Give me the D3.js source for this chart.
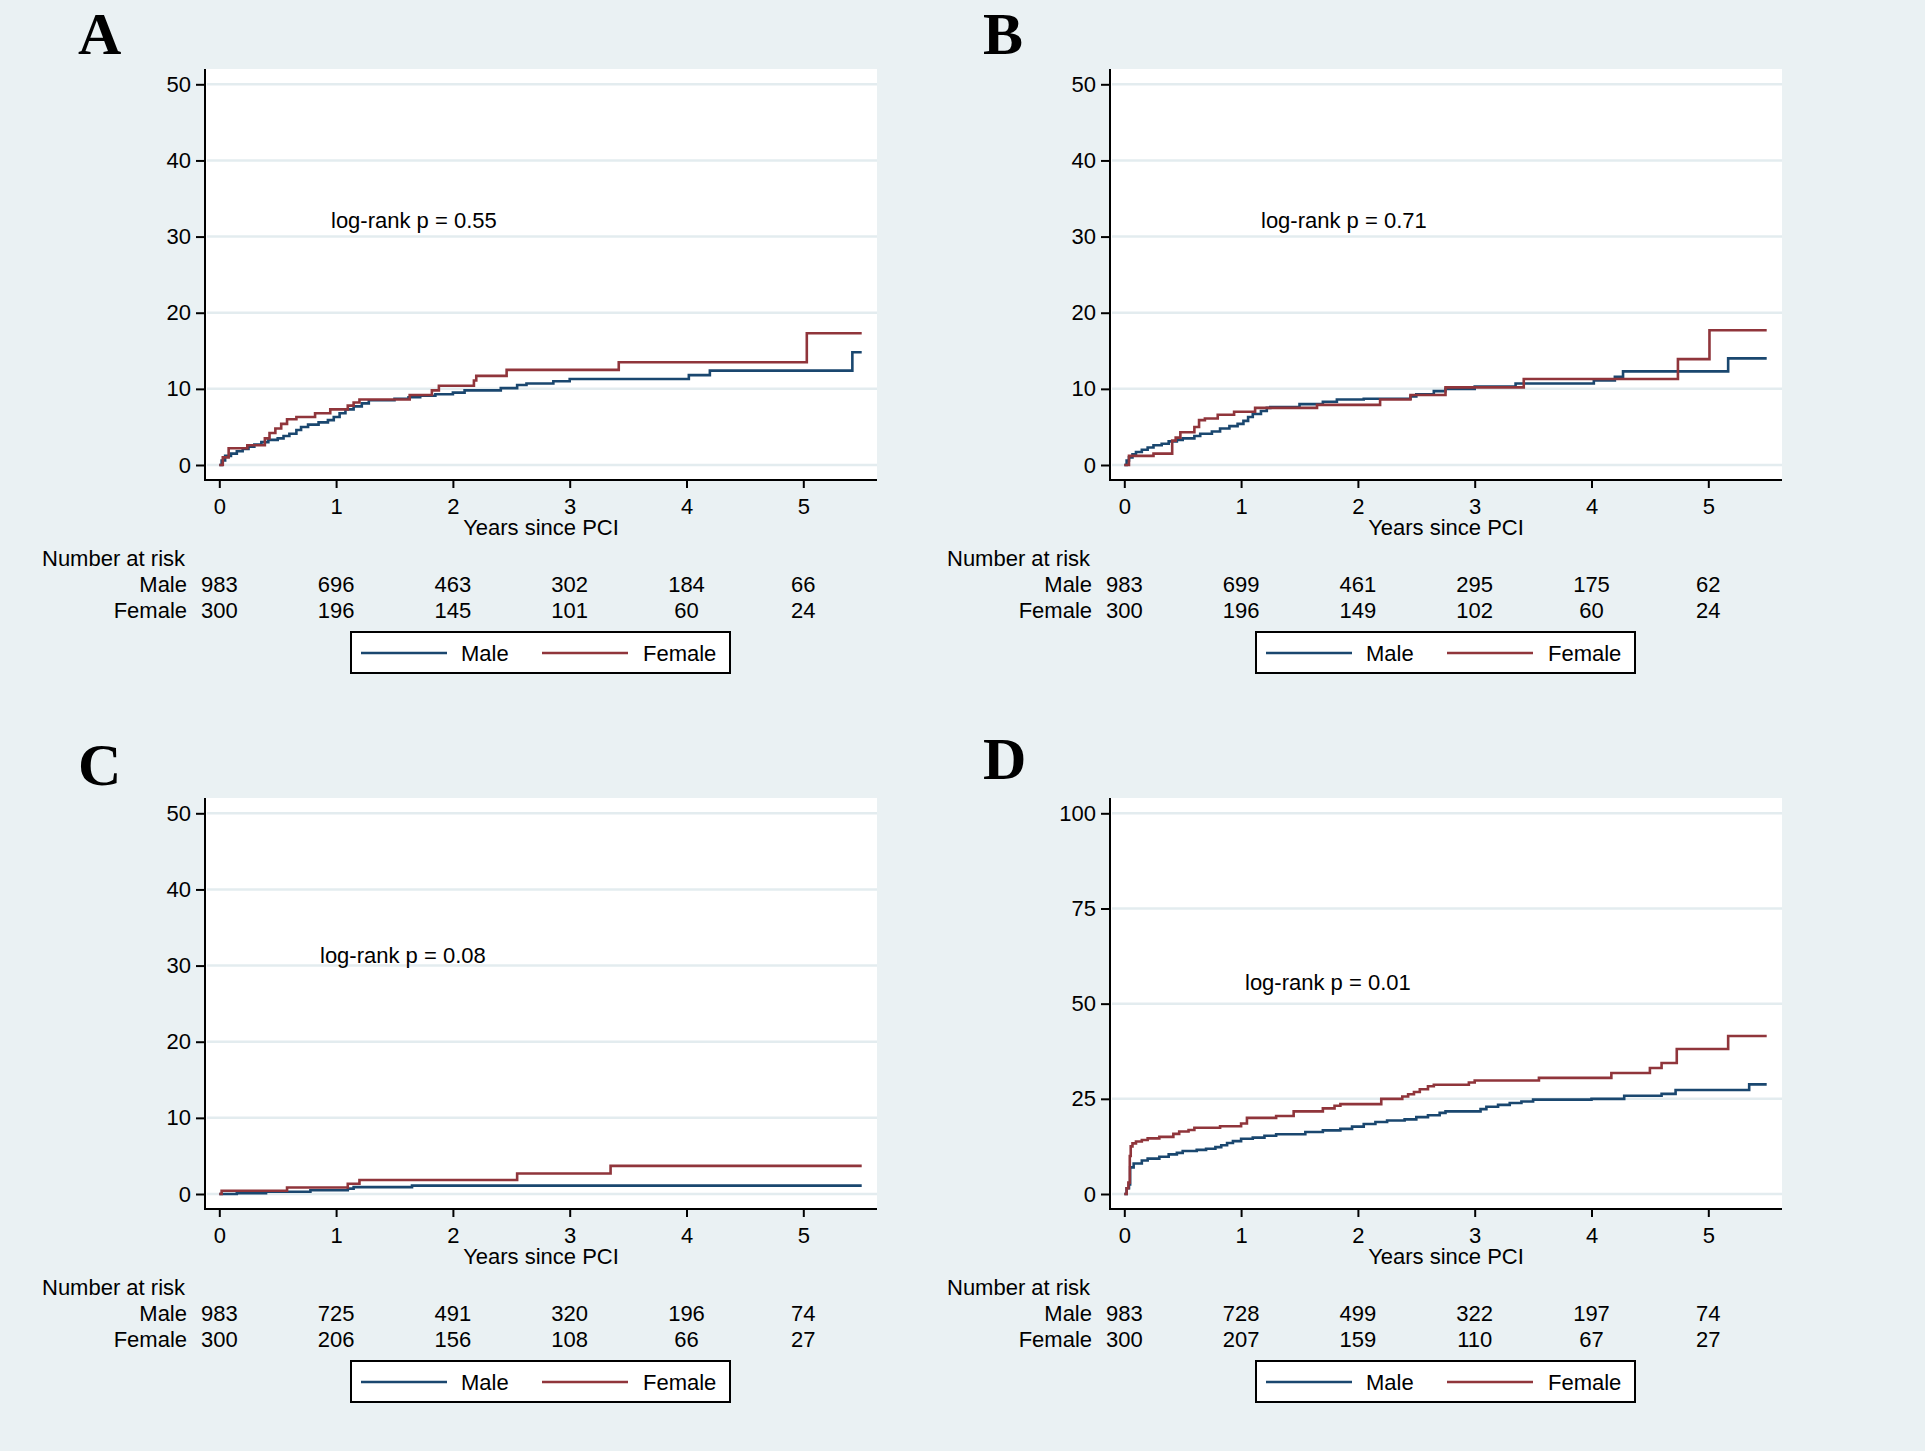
<!DOCTYPE html>
<html>
<head>
<meta charset="utf-8">
<script src="https://cdn.jsdelivr.net/npm/d3@7"></script>
<style>
  body { margin: 0; background: #eaf1f3; }
  svg { display: block; }
  text { font-family: "Liberation Sans", Arial, sans-serif; fill: #000; }
</style>
</head>
<body>
<svg id="chart" width="1925" height="1451"></svg>
<script>
// ---------------- DATA ----------------
const panelLetters = ["A", "B", "C", "D"];
const pValueTexts = ["log-rank p = 0.55", "log-rank p = 0.71", "log-rank p = 0.08", "log-rank p = 0.01"];
const xTickValues = [0, 1, 2, 3, 4, 5];
const yTicksSmall = [0, 10, 20, 30, 40, 50];
const yTicksLarge = [0, 25, 50, 75, 100];
const groupNames = ["Male", "Female"];

// Panel A: [years, cumulative incidence %]
const aMale = [[0,0],[0.02,0.6],[0.05,1.2],[0.1,1.5],[0.15,1.8],[0.2,2.1],[0.25,2.4],[0.3,2.7],[0.36,3.0],[0.42,3.3],[0.5,3.5],[0.55,3.8],[0.6,4.1],[0.66,4.6],[0.7,5.0],[0.76,5.3],[0.85,5.6],[0.93,5.9],[0.98,6.3],[1.03,6.8],[1.08,7.3],[1.15,7.7],[1.22,8.1],[1.28,8.5],[1.5,8.7],[1.62,8.9],[1.72,9.1],[1.85,9.3],[2.0,9.5],[2.1,9.8],[2.41,10.1],[2.55,10.5],[2.63,10.7],[2.86,11.0],[3.0,11.3],[4.02,11.8],[4.2,12.4],[5.42,14.8],[5.5,14.8]];
const aFemale = [[0,0],[0.03,1.0],[0.08,2.2],[0.24,2.6],[0.39,3.5],[0.43,4.2],[0.48,4.8],[0.53,5.4],[0.58,6.0],[0.66,6.3],[0.82,6.8],[0.95,7.3],[1.1,7.8],[1.15,8.2],[1.2,8.6],[1.63,9.2],[1.82,9.8],[1.88,10.4],[2.18,11.1],[2.2,11.7],[2.46,12.5],[3.42,13.5],[5.03,17.3],[5.5,17.3]];
// Panel B
const bMale = [[0,0],[0.02,0.6],[0.04,1.0],[0.07,1.4],[0.1,1.7],[0.15,2.0],[0.2,2.3],[0.25,2.6],[0.32,2.8],[0.38,3.1],[0.45,3.3],[0.5,3.5],[0.6,3.8],[0.65,4.1],[0.75,4.4],[0.82,4.8],[0.9,5.1],[0.97,5.4],[1.02,5.8],[1.06,6.3],[1.1,6.7],[1.17,7.1],[1.22,7.5],[1.25,7.6],[1.5,8.0],[1.7,8.3],[1.82,8.6],[2.05,8.7],[2.45,9.0],[2.5,9.3],[2.65,9.7],[2.75,10.0],[3.0,10.3],[3.35,10.7],[4.02,11.1],[4.2,11.6],[4.27,12.3],[5.17,14.0],[5.5,14.0]];
const bFemale = [[0,0],[0.04,1.2],[0.25,1.5],[0.41,3.2],[0.44,3.6],[0.48,4.3],[0.6,5.0],[0.64,5.9],[0.69,6.1],[0.8,6.6],[0.94,7.0],[1.12,7.5],[1.65,7.9],[2.19,8.6],[2.45,9.2],[2.75,10.2],[3.42,11.3],[4.74,13.9],[5.01,17.7],[5.5,17.7]];
// Panel C
const cMale = [[0,0],[0.15,0.12],[0.4,0.3],[0.78,0.5],[1.1,0.7],[1.15,0.9],[1.65,1.1],[5.5,1.1]];
const cFemale = [[0,0],[0.02,0.43],[0.58,0.86],[1.1,1.35],[1.2,1.83],[2.55,2.7],[3.35,3.7],[5.5,3.7]];
// Panel D
const dMale = [[0,0],[0.02,1.5],[0.04,2.5],[0.05,7.0],[0.08,8.0],[0.15,8.8],[0.2,9.3],[0.3,9.8],[0.38,10.4],[0.45,10.8],[0.5,11.3],[0.62,11.6],[0.7,11.9],[0.78,12.3],[0.83,12.8],[0.88,13.4],[0.93,13.9],[1.0,14.5],[1.1,14.8],[1.2,15.3],[1.3,15.7],[1.55,16.3],[1.7,16.7],[1.85,17.1],[1.95,17.7],[2.05,18.4],[2.15,18.9],[2.25,19.3],[2.4,19.6],[2.5,20.2],[2.6,20.7],[2.7,21.3],[2.75,21.7],[3.05,22.3],[3.1,22.9],[3.2,23.4],[3.3,23.9],[3.4,24.3],[3.5,24.8],[4.0,25.0],[4.28,25.8],[4.6,26.3],[4.72,27.3],[5.35,28.8],[5.5,28.8]];
const dFemale = [[0,0],[0.02,1.5],[0.035,3.0],[0.047,10.0],[0.055,12.5],[0.07,13.3],[0.1,13.8],[0.15,14.2],[0.2,14.6],[0.3,15.0],[0.42,15.8],[0.47,16.4],[0.55,16.8],[0.6,17.4],[0.82,17.8],[1.0,18.5],[1.05,20.0],[1.3,20.5],[1.45,21.7],[1.7,22.5],[1.8,23.2],[1.85,23.6],[2.2,25.0],[2.38,25.6],[2.43,26.2],[2.48,26.8],[2.53,27.5],[2.6,28.3],[2.65,28.7],[2.95,29.3],[3.0,29.8],[3.55,30.5],[4.17,31.8],[4.5,33.1],[4.6,34.4],[4.73,38.1],[5.17,41.5],[5.5,41.5]];

// Number at risk
const aRiskMale = [983, 696, 463, 302, 184, 66];
const aRiskFemale = [300, 196, 145, 101, 60, 24];
const bRiskMale = [983, 699, 461, 295, 175, 62];
const bRiskFemale = [300, 196, 149, 102, 60, 24];
const cRiskMale = [983, 725, 491, 320, 196, 74];
const cRiskFemale = [300, 206, 156, 108, 66, 27];
const dRiskMale = [983, 728, 499, 322, 197, 74];
const dRiskFemale = [300, 207, 159, 110, 67, 27];

// ---------------- LAYOUT / STYLE ----------------
const colors = { Male: "#1a476f", Female: "#90353b" };
const gridColor = "#e3ecef";
const panels = [
  { letter: panelLetters[0], p: pValueTexts[0], male: aMale, female: aFemale, rm: aRiskMale, rf: aRiskFemale, yTicks: yTicksSmall, yMax: 50, dx: 0, dy: 0, px: 331, py: 228, ly: 54 },
  { letter: panelLetters[1], p: pValueTexts[1], male: bMale, female: bFemale, rm: bRiskMale, rf: bRiskFemale, yTicks: yTicksSmall, yMax: 50, dx: 905, dy: 0, px: 356, py: 228, ly: 54 },
  { letter: panelLetters[2], p: pValueTexts[2], male: cMale, female: cFemale, rm: cRiskMale, rf: cRiskFemale, yTicks: yTicksSmall, yMax: 50, dx: 0, dy: 729, px: 320, py: 234, ly: 56 },
  { letter: panelLetters[3], p: pValueTexts[3], male: dMale, female: dFemale, rm: dRiskMale, rf: dRiskFemale, yTicks: yTicksLarge, yMax: 100, dx: 905, dy: 729, px: 340, py: 261, ly: 50 }
];

const plotL = 205, plotR = 877, plotT = 69, plotB = 480;
const svg = d3.select("#chart");
svg.append("rect").attr("width", 1925).attr("height", 1451).attr("fill", "#eaf1f3");

panels.forEach(P => {
  const g = svg.append("g").attr("transform", `translate(${P.dx},${P.dy})`);
  const x = d3.scaleLinear().domain([0, 5]).range([219.3, 803.3]);
  const y = d3.scaleLinear().domain([0, P.yMax]).range([465, 84.3]);

  // panel letter
  g.append("text").attr("x", 78).attr("y", P.ly)
    .style("font-family", "'Liberation Serif', 'Times New Roman', serif")
    .style("font-weight", "bold").style("font-size", "60px").text(P.letter);

  // plot area
  g.append("rect").attr("x", plotL).attr("y", plotT).attr("width", plotR - plotL).attr("height", plotB - plotT).attr("fill", "#fff");

  // gridlines
  g.selectAll(".grid").data(P.yTicks).enter().append("line")
    .attr("x1", plotL + 2).attr("x2", plotR)
    .attr("y1", d => y(d)).attr("y2", d => y(d))
    .attr("stroke", gridColor).attr("stroke-width", 2.5);

  // y axis
  const yAxis = g.append("g").attr("transform", `translate(${plotL},0)`)
    .call(d3.axisLeft(y).tickValues(P.yTicks).tickFormat(d3.format("d")).tickSize(9).tickPadding(5).tickSizeOuter(0));
  yAxis.select(".domain").remove();
  yAxis.selectAll(".tick line").attr("stroke", "#000").attr("stroke-width", 2);
  yAxis.selectAll(".tick text").style("font-size", "22px").style("font-family", "'Liberation Sans', Arial, sans-serif").attr("fill", "#000");
  g.append("line").attr("x1", plotL).attr("x2", plotL).attr("y1", plotT).attr("y2", plotB + 1)
    .attr("stroke", "#000").attr("stroke-width", 2);

  // x axis
  const xAxis = g.append("g").attr("transform", `translate(0,${plotB})`)
    .call(d3.axisBottom(x).tickValues(xTickValues).tickFormat(d3.format("d")).tickSize(8).tickPadding(10).tickSizeOuter(0));
  xAxis.select(".domain").remove();
  xAxis.selectAll(".tick line").attr("stroke", "#000").attr("stroke-width", 2);
  xAxis.selectAll(".tick text").style("font-size", "22px").style("font-family", "'Liberation Sans', Arial, sans-serif").attr("fill", "#000");
  g.append("line").attr("x1", plotL).attr("x2", plotR).attr("y1", plotB).attr("y2", plotB)
    .attr("stroke", "#000").attr("stroke-width", 2);

  g.append("text").attr("x", (plotL + plotR) / 2).attr("y", 535).attr("text-anchor", "middle")
    .style("font-size", "22px").text("Years since PCI");

  // p-value text
  g.append("text").attr("x", P.px).attr("y", P.py).style("font-size", "22px").text(P.p);

  // curves
  const line = d3.line().x(d => x(d[0])).y(d => y(d[1])).curve(d3.curveStepAfter);
  g.append("path").datum(P.male).attr("d", line).attr("fill", "none")
    .attr("stroke", colors.Male).attr("stroke-width", 2.6).attr("stroke-linejoin", "miter");
  g.append("path").datum(P.female).attr("d", line).attr("fill", "none")
    .attr("stroke", colors.Female).attr("stroke-width", 2.6).attr("stroke-linejoin", "miter");

  // number at risk
  g.append("text").attr("x", 42).attr("y", 566).style("font-size", "22px").text("Number at risk");
  [[groupNames[0], P.rm, 592], [groupNames[1], P.rf, 618]].forEach(([name, vals, yy]) => {
    g.append("text").attr("x", 187).attr("y", yy).attr("text-anchor", "end").style("font-size", "22px").text(name);
    g.selectAll(null).data(vals).enter().append("text")
      .attr("x", (d, i) => x(xTickValues[i])).attr("y", yy).attr("text-anchor", "middle")
      .style("font-size", "22px").text(d => d);
  });

  // legend
  const lg = g.append("g");
  lg.append("rect").attr("x", 351).attr("y", 632).attr("width", 379).attr("height", 41)
    .attr("fill", "#fff").attr("stroke", "#000").attr("stroke-width", 2);
  [[groupNames[0], 361, 461], [groupNames[1], 542, 643]].forEach(([name, lx, tx]) => {
    lg.append("line").attr("x1", lx).attr("x2", lx + 86).attr("y1", 653).attr("y2", 653)
      .attr("stroke", colors[name]).attr("stroke-width", 2.6);
    lg.append("text").attr("x", tx).attr("y", 661).style("font-size", "22px").text(name);
  });
});
</script>
</body>
</html>
